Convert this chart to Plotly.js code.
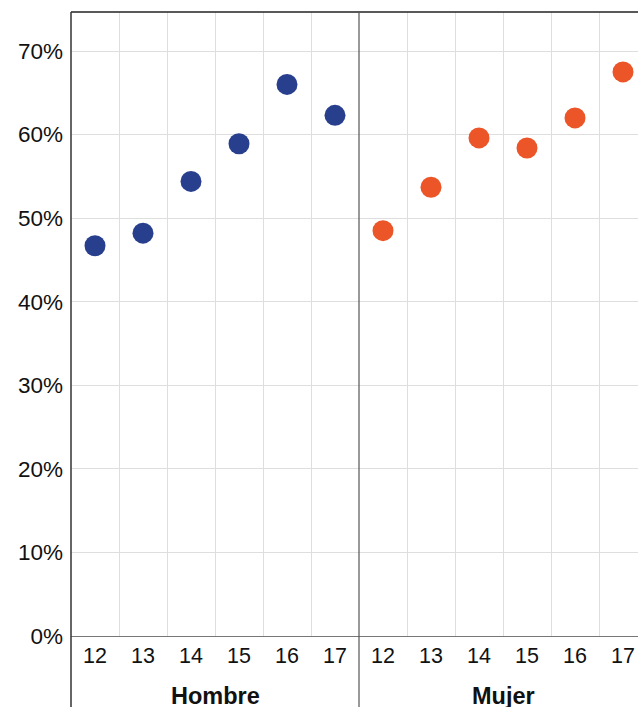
<!DOCTYPE html>
<html>
<head>
<meta charset="utf-8">
<script src="https://cdn.plot.ly/plotly-3.0.1.min.js"></script>
<style>
html, body { margin: 0; padding: 0; overflow: hidden; background: #fff; }
#chart { width: 660px; height: 740px; }
</style>
</head>
<body>
<div id="chart"></div>
<script>
const ages = ['12', '13', '14', '15', '16', '17'];
const groups = ['Hombre', 'Mujer'];
const hombre = [0.467, 0.482, 0.544, 0.589, 0.660, 0.623];
const mujer = [0.485, 0.537, 0.596, 0.584, 0.620, 0.675];
const yTicks = [0, 0.1, 0.2, 0.3, 0.4, 0.5, 0.6, 0.7];

const FONT = 'Liberation Sans, Arial, sans-serif';

const traces = [
  { x: ages, y: hombre, xaxis: 'x', yaxis: 'y', type: 'scatter', mode: 'markers',
    marker: { size: 21, color: '#283F8E' }, name: groups[0], showlegend: false },
  { x: ages, y: mujer, xaxis: 'x2', yaxis: 'y', type: 'scatter', mode: 'markers',
    marker: { size: 21, color: '#EC5528' }, name: groups[1], showlegend: false }
];

const xCommon = {
  type: 'category', range: [-0.5, 5.5], tickson: 'boundaries',
  showgrid: true, gridcolor: '#dedede', gridwidth: 1,
  ticks: '', showline: true, linecolor: '#777', linewidth: 1,
  tickfont: { family: FONT, size: 21.5, color: '#111' },
  ticklabelstandoff: 0, fixedrange: true, zeroline: false
};

const layout = {
  width: 660, height: 740,
  margin: { l: 71, r: 13, t: 12, b: 104 },
  paper_bgcolor: '#fff', plot_bgcolor: '#fff',
  font: { family: FONT, color: '#111' },
  xaxis: Object.assign({}, xCommon, { domain: [0, 0.5], anchor: 'y' }),
  xaxis2: Object.assign({}, xCommon, { domain: [0.5, 1], anchor: 'y' }),
  yaxis: {
    range: [0, 0.7467], tickvals: yTicks, tickformat: '.0%',
    showgrid: true, gridcolor: '#dedede', gridwidth: 1, zeroline: false,
    ticks: '', showline: false, ticklabelstandoff: 7,
    tickfont: { family: FONT, size: 22.5, color: '#111' }, fixedrange: true
  },
  shapes: [
    { type: 'line', xref: 'paper', yref: 'paper', x0: 0, x1: 1, y0: 1, y1: 1,
      line: { color: '#222', width: 1.5 } },
    { type: 'line', xref: 'paper', yref: 'paper', x0: 0, x1: 0, y0: -0.2, y1: 1,
      line: { color: '#333', width: 1.5 } },
    { type: 'line', xref: 'paper', yref: 'paper', x0: 0.5, x1: 0.5, y0: -0.2, y1: 1,
      line: { color: '#555', width: 1.2 } }
  ],
  annotations: [
    { xref: 'x domain', yref: 'paper', x: 0.5, y: -0.072, yanchor: 'top', showarrow: false,
      text: '<b>' + groups[0] + '</b>', font: { family: FONT, size: 23.5, color: '#111' } },
    { xref: 'x2 domain', yref: 'paper', x: 0.5, y: -0.072, yanchor: 'top', showarrow: false,
      text: '<b>' + groups[1] + '</b>', font: { family: FONT, size: 23.5, color: '#111' } }
  ]
};

Plotly.newPlot('chart', traces, layout, { staticPlot: true, displayModeBar: false });
</script>
</body>
</html>
